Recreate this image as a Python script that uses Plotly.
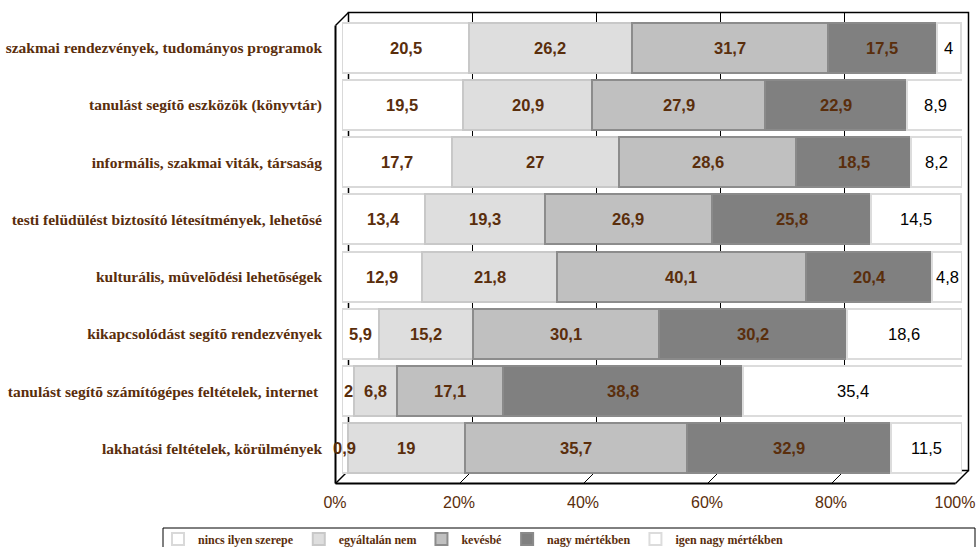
import plotly.graph_objects as go

categories = [
    "szakmai rendezvények, tudományos programok",
    "tanulást segítõ eszközök (könyvtár)",
    "informális, szakmai viták, társaság",
    "testi felüdülést biztosító létesítmények, lehetõsé",
    "kulturális, mûvelõdési lehetõségek",
    "kikapcsolódást segítõ rendezvények",
    "tanulást segítõ számítógépes feltételek, internet ",
    "lakhatási feltételek, körülmények",
]

nincs = [20.5, 19.5, 17.7, 13.4, 12.9, 5.9, 2, 0.9]
egyaltalan = [26.2, 20.9, 27, 19.3, 21.8, 15.2, 6.8, 19]
kevesbe = [31.7, 27.9, 28.6, 26.9, 40.1, 30.1, 17.1, 35.7]
nagy = [17.5, 22.9, 18.5, 25.8, 20.4, 30.2, 38.8, 32.9]
igen_nagy = [4, 8.9, 8.2, 14.5, 4.8, 18.6, 35.4, 11.5]

x_ticks = [0, 20, 40, 60, 80, 100]
x_tick_labels = ["0%", "20%", "40%", "60%", "80%", "100%"]

BROWN = "#5a2e0c"

series = [
    ("nincs ilyen szerepe", nincs, "#ffffff", "#d9d9d9", True),
    ("egyáltalán nem", egyaltalan, "#dedede", "#c8c8c8", True),
    ("kevésbé", kevesbe, "#c0c0c0", "#8c8c8c", True),
    ("nagy mértékben", nagy, "#808080", "#8a8a8a", True),
    ("igen nagy mértékben", igen_nagy, "#ffffff", "#dcdcdc", False),
]


def fmt(v):
    return f"{v:g}".replace(".", ",")


fig = go.Figure()
annotations = []
base = [0.0] * len(categories)
for name, vals, fill, edge, bold in series:
    fig.add_trace(go.Bar(
        y=categories,
        x=vals,
        name=name,
        orientation="h",
        marker=dict(color=fill, line=dict(color=edge, width=2)),
        hoverinfo="x+name",
    ))
    # value labels on top of all bars
    for i, (cat, v) in enumerate(zip(categories, vals)):
        annotations.append(dict(
            x=base[i] + v / 2, y=cat, xref="x", yref="y",
            text=fmt(v), showarrow=False,
            font=dict(family="Arial", size=16.5,
                      color=BROWN if bold else "#000000",
                      weight="bold" if bold else "normal"),
        ))
        base[i] += v

# pixel geometry of the pseudo-3D frame
W_FIG, H_FIG = 977, 547
L, R, T, B = 342, 962, 19, 477
PW, PH = R - L, B - T
D = 6.5


def px(x):
    return (x - L) / PW


def py(y):
    return (B - y) / PH


shapes = []


def line(x0, y0, x1, y1, w=1.5):
    shapes.append(dict(type="line", xref="paper", yref="paper",
                       x0=px(x0), y0=py(y0), x1=px(x1), y1=py(y1),
                       line=dict(color="black", width=w), layer="below"))


# back wall
shapes.append(dict(type="rect", xref="paper", yref="paper",
                   x0=px(L + D), y0=py(B - D), x1=px(R + D), y1=py(T - D),
                   line=dict(color="black", width=1.5), fillcolor="white", layer="below"))
for t in x_ticks[1:-1]:
    gx = L + PW * t / 100
    line(gx + D, T - D, gx + D, B - D, 1)
    line(gx - D, B + D, gx + D, B - D, 1)
# left wall and floor edges
line(L - D, T + D, L - D, B + D, 2)
line(L - D, T + D, L + D, T - D, 1.5)
line(L - D, B + D, R - D, B + D, 2)
line(L - D, B + D, L + D, B - D, 1.5)
line(R - D, B + D, R + D, B - D, 1.5)
# legend box
shapes.append(dict(type="rect", xref="paper", yref="paper",
                   x0=px(163), y0=py(552), x1=px(975), y1=py(528),
                   line=dict(color="black", width=1), fillcolor="rgba(0,0,0,0)", layer="below"))

fig.update_layout(
    width=W_FIG, height=H_FIG,
    margin=dict(l=L, r=W_FIG - R, t=T, b=H_FIG - B, autoexpand=False),
    barmode="stack",
    bargap=0.125,
    plot_bgcolor="rgba(0,0,0,0)",
    paper_bgcolor="white",
    showlegend=True,
    shapes=shapes,
    annotations=annotations,
    legend=dict(orientation="h", x=px(158), y=py(539), xanchor="left", yanchor="middle",
                font=dict(family="Liberation Serif", size=12, color=BROWN, weight="bold"),
                bgcolor="rgba(0,0,0,0)", itemwidth=30, traceorder="normal",
                tracegroupgap=0),
    xaxis=dict(range=[0, 100], tickvals=x_ticks, ticktext=x_tick_labels,
               showgrid=False, zeroline=False, showline=False, ticks="",
               tickfont=dict(family="Arial", size=16, color=BROWN),
               ticklabelshift=-7, ticklabelstandoff=14, fixedrange=True,
               automargin=False),
    yaxis=dict(autorange="reversed", showgrid=False, showline=False, ticks="",
               tickfont=dict(family="Liberation Serif", size=15.5, color=BROWN, weight="bold"),
               ticklabelstandoff=19, fixedrange=True, automargin=False),
)

# page body has a default margin; drop it so the figure fills the window
fig.write_html("out.html", config={"displayModeBar": False},
               post_script="document.body.style.margin='0px';")
